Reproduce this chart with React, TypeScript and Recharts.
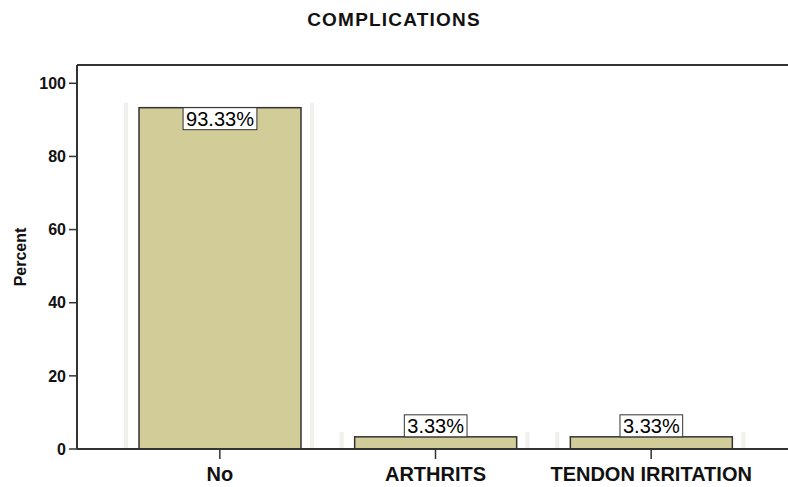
import React from 'react';
import { BarChart, Bar, XAxis, YAxis, ReferenceLine, LabelList } from 'recharts';

const categories = ['No', 'ARTHRITS', 'TENDON IRRITATION'];
const percents = [93.33, 3.33, 3.33];
const yTicks = [0, 20, 40, 60, 80, 100];

const data = categories.map((name, i) => ({ name, percent: percents[i] }));

const FONT = '"Liberation Sans", Arial, sans-serif';
const AXIS = '#333333';

// bar with the faint grey ghost strips SPSS leaves on either side
const GhostBar = (props: any) => {
  const { x, y, width, height, fill } = props;
  const top = y - 5;
  const bottom = y + height;
  return (
    <g>
      <rect x={x - 15} y={top} width={4} height={bottom - top} fill="#F0F0EC" />
      <rect x={x + width + 9} y={top} width={4} height={bottom - top} fill="#F0F0EC" />
      <rect x={x} y={y} width={width} height={height} fill={fill} stroke={AXIS} strokeWidth={1.5} />
    </g>
  );
};

// boxed percent label: inside the top of tall bars, above short ones
const BoxLabel = (props: any) => {
  const { x, y, width, height, value } = props;
  const text = `${Number(value).toFixed(2)}%`;
  const boxW = (text.length - 2) * 11.1 + 5.6 + 17.8 + 6;
  const boxH = 22;
  const cx = x + width / 2;
  const boxTop = height > 30 ? y : y - boxH;
  return (
    <g>
      <rect x={cx - boxW / 2} y={boxTop} width={boxW} height={boxH} fill="#ffffff" stroke={AXIS} strokeWidth={1} />
      <text x={cx} y={boxTop + 18} textAnchor="middle" fontFamily={FONT} fontSize={20} fill="#000">
        {text}
      </text>
    </g>
  );
};

const CatTick = (props: any) => {
  const { x, y, payload } = props;
  return (
    <text x={x} y={y} dy={20} textAnchor="middle" fontFamily={FONT} fontSize={20} fontWeight="bold" fill="#111">
      {payload.value}
    </text>
  );
};

const TitleText = () => (
  <text x={394} y={26} textAnchor="middle" fontFamily={FONT} fontSize={19} fontWeight="bold" letterSpacing={1.2} fill="#111">
    COMPLICATIONS
  </text>
);

const PercentText = () => (
  <text
    x={20}
    y={257}
    transform="rotate(-90, 20, 257)"
    textAnchor="middle"
    dominantBaseline="central"
    fontFamily={FONT}
    fontSize={16}
    fontWeight="bold"
    fill="#111"
  >
    Percent
  </text>
);

export default function App() {
  return (
    <div style={{ position: 'fixed', left: 0, top: 0, width: 788, height: 487, overflow: 'hidden', background: '#fff' }}>
      <BarChart width={840} height={487} data={data} margin={{ top: 65, right: 46, left: 0, bottom: 0 }}>
        <XAxis
          dataKey="name"
          height={38}
          padding={{ left: 35, right: 35 }}
          axisLine={{ stroke: AXIS, strokeWidth: 2 }}
          tickLine={{ stroke: AXIS, strokeWidth: 1.5 }}
          tickSize={10}
          tick={<CatTick />}
          interval={0}
        />
        <YAxis
          width={77}
          domain={[0, 105]}
          ticks={yTicks}
          axisLine={{ stroke: AXIS, strokeWidth: 2 }}
          tickLine={{ stroke: AXIS, strokeWidth: 1.5 }}
          tickSize={8}
          tickMargin={3}
          tick={{ fontFamily: FONT, fontSize: 16, fontWeight: 'bold', fill: '#111' }}
          label={{ content: () => <PercentText /> }}
        />
        <ReferenceLine y={105} stroke={AXIS} strokeWidth={2} label={{ content: () => <TitleText /> }} />
        <Bar dataKey="percent" fill="#D1CC98" barSize={162} shape={<GhostBar />} isAnimationActive={false}>
          <LabelList dataKey="percent" content={<BoxLabel />} />
        </Bar>
      </BarChart>
    </div>
  );
}
